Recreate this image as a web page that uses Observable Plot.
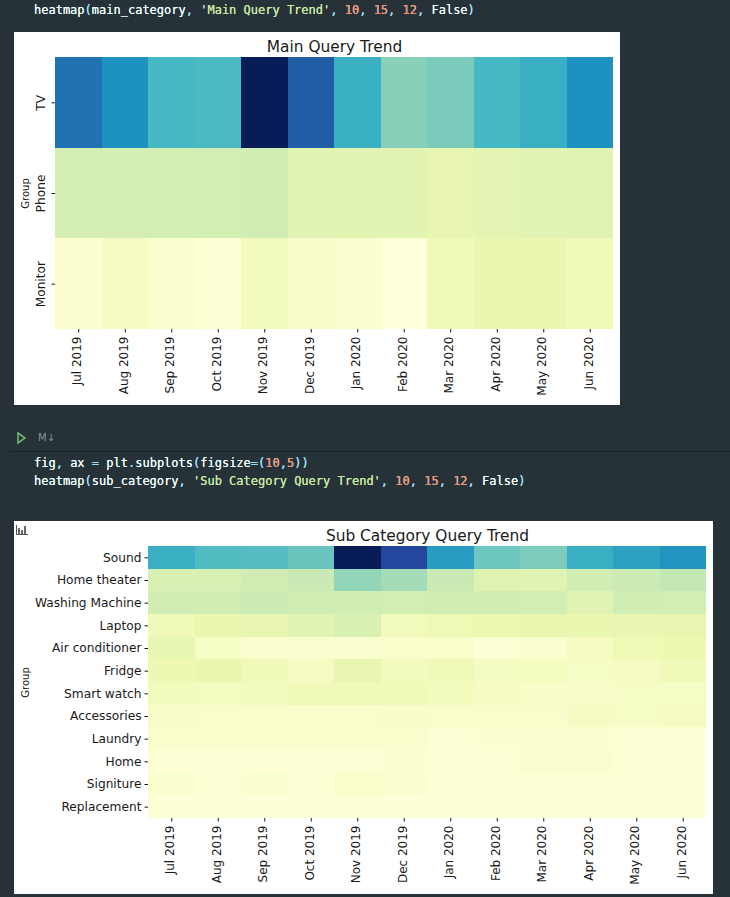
<!DOCTYPE html>
<html>
<head>
<meta charset="utf-8">
<script src="https://cdn.jsdelivr.net/npm/d3@7"></script>
<script src="https://cdn.jsdelivr.net/npm/@observablehq/plot@0.6"></script>
<style>
html,body{margin:0;padding:0;background:#263238;width:730px;height:897px;overflow:hidden;position:relative}
.code{position:absolute;left:34px;font:12px/18px "DejaVu Sans Mono",monospace;color:#eeffff;white-space:pre;text-shadow:0 0 .5px #eeffff}
.p{color:#89ddff}.s{color:#c3e88d}.n{color:#f78c6c}
.chart{position:absolute}
.chart svg{display:block}
.rule{position:absolute;left:9px;right:0;top:451px;height:1px;background:#1c262b}
.run{position:absolute;left:16px;top:431px}
.md{position:absolute;left:38px;top:431px;font:10px/13px "DejaVu Sans",sans-serif;color:#8a9499}
.icon{position:absolute;left:16px;top:525px;width:12px;height:10px;border-left:1px solid #555;border-bottom:1px solid #555;display:flex;align-items:flex-end;gap:1px;padding-left:1px;box-sizing:border-box}
.icon i{display:block;width:2px;background:#666}
</style>
</head>
<body>
<div class="code" style="top:1px"><span>heatmap</span><span class="p">(</span>main_category<span class="p">,</span> <span class="s">'Main Query Trend'</span><span class="p">,</span> <span class="n">10</span><span class="p">,</span> <span class="n">15</span><span class="p">,</span> <span class="n">12</span><span class="p">,</span> False<span class="p">)</span></div>
<svg class="run" width="11" height="14" viewBox="0 0 11 14"><path d="M2 2 L9 7 L2 12 Z" fill="none" stroke="#6fb56f" stroke-width="1.6"/></svg>
<div class="md">M↓</div><div class="rule"></div>
<div class="code" style="top:454px">fig<span class="p">,</span> ax <span class="p">=</span> plt<span class="p">.</span>subplots<span class="p">(</span>figsize<span class="p">=(</span><span class="n">10</span><span class="p">,</span><span class="n">5</span><span class="p">))</span>
heatmap<span class="p">(</span>sub_category<span class="p">,</span> <span class="s">'Sub Category Query Trend'</span><span class="p">,</span> <span class="n">10</span><span class="p">,</span> <span class="n">15</span><span class="p">,</span> <span class="n">12</span><span class="p">,</span> False<span class="p">)</span></div>
<div class="chart" id="c1" style="left:14px;top:32px"></div>
<div class="chart" id="c2" style="left:14px;top:521px"></div>
<div class="icon" style="z-index:2"><i style="height:6px"></i><i style="height:4px"></i><i style="height:8px"></i></div>
<script>
const months = ["Jul 2019","Aug 2019","Sep 2019","Oct 2019","Nov 2019","Dec 2019","Jan 2020","Feb 2020","Mar 2020","Apr 2020","May 2020","Jun 2020"];

const mainGroups = ["TV","Phone","Monitor"];
const tv      = [.70,.625,.49,.48,1,.75,.52,.36,.385,.49,.525,.625];
const phone   = [.205,.205,.21,.21,.22,.165,.16,.16,.14,.155,.165,.165];
const monitor = [.03,.07,.035,.015,.09,.05,.035,0,.105,.13,.13,.105];

const subGroups = ["Sound","Home theater","Washing Machine","Laptop","Air conditioner","Fridge","Smart watch","Accessories","Laundry","Home","Signiture","Replacement"];
const sound       = [.52,.47,.46,.42,1,.82,.59,.41,.38,.525,.57,.61];
const homeTheater = [.195,.195,.215,.245,.34,.31,.245,.175,.17,.215,.23,.255];
const washing     = [.215,.215,.23,.22,.22,.21,.22,.215,.21,.165,.22,.21];
const laptop      = [.10,.13,.14,.16,.19,.095,.11,.125,.13,.135,.14,.14];
const airCon      = [.145,.06,.03,.035,.035,.04,.045,.02,.035,.07,.11,.125];
const fridge      = [.12,.135,.10,.065,.14,.085,.10,.075,.08,.06,.07,.10];
const smartWatch  = [.09,.08,.09,.10,.10,.10,.09,.07,.05,.05,.06,.06];
const accessories = [.05,.045,.045,.045,.045,.05,.045,.045,.045,.065,.06,.065];
const laundry     = [.04,.04,.04,.04,.04,.045,.02,.025,.025,.025,.02,.02];
const home        = [.015,.015,.015,.015,.015,.025,.02,.02,.035,.035,.02,.02];
const signiture   = [.035,.02,.035,.02,.04,.03,.015,.015,.015,.015,.015,.015];
const replacement = [.01,.01,.01,.01,.01,.01,.01,.01,.01,.01,.01,.01];

const ylgnbuStops = [0,.125,.25,.375,.5,.625,.75,.875,1];
const ylgnbuColors = ["#ffffd9","#edf8b1","#c7e9b4","#7fcdbb","#41b6c4","#1d91c0","#225ea8","#253494","#081d58"];

const table = (groups, rows) => groups.flatMap((g, i) => months.map((m, j) => ({group: g, month: m, value: rows[i][j]})));

function heatmap({title, groups, rows, width, marginLeft, marginRight, yRotate, yPadding, labelOffset}) {
  return Plot.plot({
    width, height: 373,
    marginLeft, marginRight, marginTop: 25, marginBottom: 76,
    style: {background: "#fff", color: "#1a1a1a", fontFamily: "'DejaVu Sans',sans-serif", overflow: "visible"},
    x: {domain: months, padding: 0, round: false, label: null},
    y: {domain: groups, padding: 0, round: false, label: null},
    color: {type: "linear", domain: ylgnbuStops, range: ylgnbuColors, interpolate: "rgb"},
    marks: [
      Plot.cell(table(groups, rows), {x: "month", y: "group", fill: "value", shapeRendering: "crispEdges"}),
      Plot.axisX({anchor: "bottom", tickRotate: -90, tickSize: 3.5, text: null, label: null}),
      Plot.axisX({anchor: "bottom", tickRotate: -90, tickSize: 0, tickPadding: 7, dx: -1.5, fontSize: 12, label: null}),
      Plot.axisY({anchor: "left", tickRotate: yRotate, tickSize: 3.5, tickPadding: yPadding, fontSize: 12.2, label: null}),
      Plot.text(["Group"], {frameAnchor: "left", textAnchor: "middle", dx: -labelOffset, rotate: -90, fontSize: 10, fill: "#1a1a1a"}),
      Plot.text([title], {frameAnchor: "top", dy: -16, fontSize: 15.4, fill: "#1a1a1a"})
    ]
  });
}

document.getElementById("c1").append(heatmap({
  title: "Main Query Trend", groups: mainGroups, rows: [tv, phone, monitor],
  width: 606, marginLeft: 41, marginRight: 7, yRotate: -90, yPadding: 7, labelOffset: 30
}));
document.getElementById("c2").append(heatmap({
  title: "Sub Category Query Trend", groups: subGroups,
  rows: [sound, homeTheater, washing, laptop, airCon, fridge, smartWatch, accessories, laundry, home, signiture, replacement],
  width: 699, marginLeft: 134, marginRight: 7, yRotate: 0, yPadding: 3.5, labelOffset: 123
}));
</script>
</body>
</html>
